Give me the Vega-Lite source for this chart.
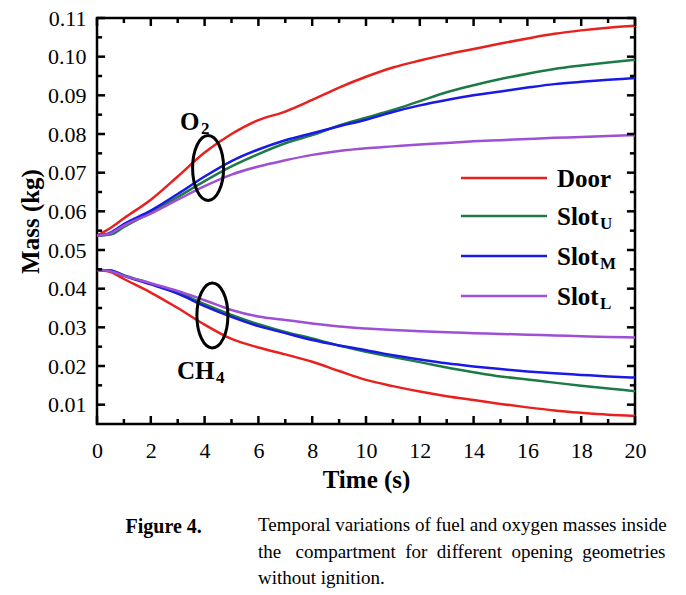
{
  "$schema": "https://vega.github.io/schema/vega-lite/v6.json",
  "width": 538,
  "height": 406,
  "autosize": {"type": "none"},
  "padding": {"left": 97, "top": 18, "right": 51, "bottom": 171},
  "background": "white",
  "config": {"view": {"stroke": "black", "strokeWidth": 2.5}, "font": "Liberation Serif"},
  "title": {
    "text": [
      "Temporal variations of fuel and oxygen masses inside",
      "the\u00a0\u00a0\u00a0compartment\u00a0\u00a0for\u00a0\u00a0different\u00a0\u00a0opening\u00a0\u00a0geometries",
      "without ignition."
    ],
    "orient": "bottom",
    "anchor": "start",
    "frame": "group",
    "dx": 161,
    "offset": -20,
    "font": "Liberation Serif",
    "fontSize": 19,
    "fontWeight": "normal",
    "lineHeight": 26.5,
    "color": "black"
  },
  "datasets": {
    "curves": [
      {"t":0,"s":"Door","g":"O2","m":0.0537},{"t":0.5,"s":"Door","g":"O2","m":0.0557},{"t":1,"s":"Door","g":"O2","m":0.0582},{"t":2,"s":"Door","g":"O2","m":0.0630},{"t":3,"s":"Door","g":"O2","m":0.0690},{"t":4,"s":"Door","g":"O2","m":0.0752},{"t":5,"s":"Door","g":"O2","m":0.0800},{"t":6,"s":"Door","g":"O2","m":0.0836},{"t":7,"s":"Door","g":"O2","m":0.0858},{"t":8,"s":"Door","g":"O2","m":0.0888},{"t":9,"s":"Door","g":"O2","m":0.0920},{"t":10,"s":"Door","g":"O2","m":0.0948},{"t":11,"s":"Door","g":"O2","m":0.0972},{"t":12,"s":"Door","g":"O2","m":0.0990},{"t":13,"s":"Door","g":"O2","m":0.1006},{"t":14,"s":"Door","g":"O2","m":0.1020},{"t":15,"s":"Door","g":"O2","m":0.1034},{"t":16,"s":"Door","g":"O2","m":0.1047},{"t":17,"s":"Door","g":"O2","m":0.1059},{"t":18,"s":"Door","g":"O2","m":0.1068},{"t":19,"s":"Door","g":"O2","m":0.1075},{"t":20,"s":"Door","g":"O2","m":0.1080},
      {"t":0,"s":"SlotU","g":"O2","m":0.0537},{"t":0.5,"s":"SlotU","g":"O2","m":0.0540},{"t":1,"s":"SlotU","g":"O2","m":0.0560},{"t":2,"s":"SlotU","g":"O2","m":0.0597},{"t":3,"s":"SlotU","g":"O2","m":0.0637},{"t":4,"s":"SlotU","g":"O2","m":0.0678},{"t":5,"s":"SlotU","g":"O2","m":0.0716},{"t":6,"s":"SlotU","g":"O2","m":0.0748},{"t":7,"s":"SlotU","g":"O2","m":0.0776},{"t":8,"s":"SlotU","g":"O2","m":0.0797},{"t":9,"s":"SlotU","g":"O2","m":0.0822},{"t":10,"s":"SlotU","g":"O2","m":0.0842},{"t":11,"s":"SlotU","g":"O2","m":0.0862},{"t":12,"s":"SlotU","g":"O2","m":0.0885},{"t":13,"s":"SlotU","g":"O2","m":0.0908},{"t":14,"s":"SlotU","g":"O2","m":0.0926},{"t":15,"s":"SlotU","g":"O2","m":0.0942},{"t":16,"s":"SlotU","g":"O2","m":0.0956},{"t":17,"s":"SlotU","g":"O2","m":0.0968},{"t":18,"s":"SlotU","g":"O2","m":0.0977},{"t":19,"s":"SlotU","g":"O2","m":0.0985},{"t":20,"s":"SlotU","g":"O2","m":0.0992},
      {"t":0,"s":"SlotM","g":"O2","m":0.0537},{"t":0.5,"s":"SlotM","g":"O2","m":0.0545},{"t":1,"s":"SlotM","g":"O2","m":0.0567},{"t":2,"s":"SlotM","g":"O2","m":0.0602},{"t":3,"s":"SlotM","g":"O2","m":0.0645},{"t":4,"s":"SlotM","g":"O2","m":0.0690},{"t":5,"s":"SlotM","g":"O2","m":0.0730},{"t":6,"s":"SlotM","g":"O2","m":0.0760},{"t":7,"s":"SlotM","g":"O2","m":0.0784},{"t":8,"s":"SlotM","g":"O2","m":0.0802},{"t":9,"s":"SlotM","g":"O2","m":0.0820},{"t":10,"s":"SlotM","g":"O2","m":0.0837},{"t":11,"s":"SlotM","g":"O2","m":0.0857},{"t":12,"s":"SlotM","g":"O2","m":0.0874},{"t":13,"s":"SlotM","g":"O2","m":0.0888},{"t":14,"s":"SlotM","g":"O2","m":0.0900},{"t":15,"s":"SlotM","g":"O2","m":0.0910},{"t":16,"s":"SlotM","g":"O2","m":0.0920},{"t":17,"s":"SlotM","g":"O2","m":0.0929},{"t":18,"s":"SlotM","g":"O2","m":0.0935},{"t":19,"s":"SlotM","g":"O2","m":0.0940},{"t":20,"s":"SlotM","g":"O2","m":0.0945},
      {"t":0,"s":"SlotL","g":"O2","m":0.0537},{"t":0.5,"s":"SlotL","g":"O2","m":0.0543},{"t":1,"s":"SlotL","g":"O2","m":0.0563},{"t":2,"s":"SlotL","g":"O2","m":0.0594},{"t":3,"s":"SlotL","g":"O2","m":0.0630},{"t":4,"s":"SlotL","g":"O2","m":0.0665},{"t":5,"s":"SlotL","g":"O2","m":0.0695},{"t":6,"s":"SlotL","g":"O2","m":0.0716},{"t":7,"s":"SlotL","g":"O2","m":0.0732},{"t":8,"s":"SlotL","g":"O2","m":0.0746},{"t":9,"s":"SlotL","g":"O2","m":0.0756},{"t":10,"s":"SlotL","g":"O2","m":0.0763},{"t":11,"s":"SlotL","g":"O2","m":0.0768},{"t":12,"s":"SlotL","g":"O2","m":0.0773},{"t":13,"s":"SlotL","g":"O2","m":0.0777},{"t":14,"s":"SlotL","g":"O2","m":0.0781},{"t":15,"s":"SlotL","g":"O2","m":0.0784},{"t":16,"s":"SlotL","g":"O2","m":0.0787},{"t":17,"s":"SlotL","g":"O2","m":0.0790},{"t":18,"s":"SlotL","g":"O2","m":0.0792},{"t":19,"s":"SlotL","g":"O2","m":0.0795},{"t":20,"s":"SlotL","g":"O2","m":0.0797},
      {"t":0,"s":"Door","g":"CH4","m":0.0448},{"t":0.5,"s":"Door","g":"CH4","m":0.0443},{"t":1,"s":"Door","g":"CH4","m":0.0425},{"t":2,"s":"Door","g":"CH4","m":0.0390},{"t":3,"s":"Door","g":"CH4","m":0.0350},{"t":4,"s":"Door","g":"CH4","m":0.0307},{"t":5,"s":"Door","g":"CH4","m":0.0270},{"t":6,"s":"Door","g":"CH4","m":0.0248},{"t":7,"s":"Door","g":"CH4","m":0.0230},{"t":8,"s":"Door","g":"CH4","m":0.0211},{"t":9,"s":"Door","g":"CH4","m":0.0187},{"t":10,"s":"Door","g":"CH4","m":0.0164},{"t":11,"s":"Door","g":"CH4","m":0.0148},{"t":12,"s":"Door","g":"CH4","m":0.0134},{"t":13,"s":"Door","g":"CH4","m":0.0122},{"t":14,"s":"Door","g":"CH4","m":0.0112},{"t":15,"s":"Door","g":"CH4","m":0.0102},{"t":16,"s":"Door","g":"CH4","m":0.0093},{"t":17,"s":"Door","g":"CH4","m":0.0085},{"t":18,"s":"Door","g":"CH4","m":0.0079},{"t":19,"s":"Door","g":"CH4","m":0.0074},{"t":20,"s":"Door","g":"CH4","m":0.0071},
      {"t":0,"s":"SlotU","g":"CH4","m":0.0448},{"t":0.5,"s":"SlotU","g":"CH4","m":0.0447},{"t":1,"s":"SlotU","g":"CH4","m":0.0435},{"t":2,"s":"SlotU","g":"CH4","m":0.0413},{"t":3,"s":"SlotU","g":"CH4","m":0.0390},{"t":4,"s":"SlotU","g":"CH4","m":0.0360},{"t":5,"s":"SlotU","g":"CH4","m":0.0332},{"t":6,"s":"SlotU","g":"CH4","m":0.0308},{"t":7,"s":"SlotU","g":"CH4","m":0.0288},{"t":8,"s":"SlotU","g":"CH4","m":0.0271},{"t":9,"s":"SlotU","g":"CH4","m":0.0253},{"t":10,"s":"SlotU","g":"CH4","m":0.0237},{"t":11,"s":"SlotU","g":"CH4","m":0.0223},{"t":12,"s":"SlotU","g":"CH4","m":0.0210},{"t":13,"s":"SlotU","g":"CH4","m":0.0196},{"t":14,"s":"SlotU","g":"CH4","m":0.0184},{"t":15,"s":"SlotU","g":"CH4","m":0.0173},{"t":16,"s":"SlotU","g":"CH4","m":0.0165},{"t":17,"s":"SlotU","g":"CH4","m":0.0157},{"t":18,"s":"SlotU","g":"CH4","m":0.0149},{"t":19,"s":"SlotU","g":"CH4","m":0.0142},{"t":20,"s":"SlotU","g":"CH4","m":0.0135},
      {"t":0,"s":"SlotM","g":"CH4","m":0.0448},{"t":0.5,"s":"SlotM","g":"CH4","m":0.0447},{"t":1,"s":"SlotM","g":"CH4","m":0.0433},{"t":2,"s":"SlotM","g":"CH4","m":0.0411},{"t":3,"s":"SlotM","g":"CH4","m":0.0387},{"t":4,"s":"SlotM","g":"CH4","m":0.0355},{"t":5,"s":"SlotM","g":"CH4","m":0.0327},{"t":6,"s":"SlotM","g":"CH4","m":0.0303},{"t":7,"s":"SlotM","g":"CH4","m":0.0285},{"t":8,"s":"SlotM","g":"CH4","m":0.0267},{"t":9,"s":"SlotM","g":"CH4","m":0.0253},{"t":10,"s":"SlotM","g":"CH4","m":0.0241},{"t":11,"s":"SlotM","g":"CH4","m":0.0228},{"t":12,"s":"SlotM","g":"CH4","m":0.0217},{"t":13,"s":"SlotM","g":"CH4","m":0.0207},{"t":14,"s":"SlotM","g":"CH4","m":0.0199},{"t":15,"s":"SlotM","g":"CH4","m":0.0192},{"t":16,"s":"SlotM","g":"CH4","m":0.0186},{"t":17,"s":"SlotM","g":"CH4","m":0.0181},{"t":18,"s":"SlotM","g":"CH4","m":0.0177},{"t":19,"s":"SlotM","g":"CH4","m":0.0173},{"t":20,"s":"SlotM","g":"CH4","m":0.0170},
      {"t":0,"s":"SlotL","g":"CH4","m":0.0448},{"t":0.5,"s":"SlotL","g":"CH4","m":0.0445},{"t":1,"s":"SlotL","g":"CH4","m":0.0433},{"t":2,"s":"SlotL","g":"CH4","m":0.0414},{"t":3,"s":"SlotL","g":"CH4","m":0.0394},{"t":4,"s":"SlotL","g":"CH4","m":0.0370},{"t":5,"s":"SlotL","g":"CH4","m":0.0345},{"t":6,"s":"SlotL","g":"CH4","m":0.0328},{"t":7,"s":"SlotL","g":"CH4","m":0.0319},{"t":8,"s":"SlotL","g":"CH4","m":0.0310},{"t":9,"s":"SlotL","g":"CH4","m":0.0302},{"t":10,"s":"SlotL","g":"CH4","m":0.0297},{"t":11,"s":"SlotL","g":"CH4","m":0.0293},{"t":12,"s":"SlotL","g":"CH4","m":0.0290},{"t":13,"s":"SlotL","g":"CH4","m":0.0287},{"t":14,"s":"SlotL","g":"CH4","m":0.0285},{"t":15,"s":"SlotL","g":"CH4","m":0.0283},{"t":16,"s":"SlotL","g":"CH4","m":0.0281},{"t":17,"s":"SlotL","g":"CH4","m":0.0279},{"t":18,"s":"SlotL","g":"CH4","m":0.0277},{"t":19,"s":"SlotL","g":"CH4","m":0.0275},{"t":20,"s":"SlotL","g":"CH4","m":0.0274}
    ],
    "xMajor": [{"v":0},{"v":2},{"v":4},{"v":6},{"v":8},{"v":10},{"v":12},{"v":14},{"v":16},{"v":18},{"v":20}],
    "xMinor": [{"v":1},{"v":3},{"v":5},{"v":7},{"v":9},{"v":11},{"v":13},{"v":15},{"v":17},{"v":19}],
    "yMajor": [{"v":0.01},{"v":0.02},{"v":0.03},{"v":0.04},{"v":0.05},{"v":0.06},{"v":0.07},{"v":0.08},{"v":0.09},{"v":0.1},{"v":0.11}],
    "yMinor": [{"v":0.015},{"v":0.025},{"v":0.035},{"v":0.045},{"v":0.055},{"v":0.065},{"v":0.075},{"v":0.085},{"v":0.095},{"v":0.105}],
    "legendLines": [
      {"s":"Door","x1":13.53,"x2":16.73,"y":0.06862},
      {"s":"SlotU","x1":13.53,"x2":16.73,"y":0.0588},
      {"s":"SlotM","x1":13.53,"x2":16.73,"y":0.04845},
      {"s":"SlotL","x1":13.53,"x2":16.73,"y":0.03811}
    ],
    "labels": [
      {"x":17.1,"y":0.06862,"text":"Door"},
      {"x":17.1,"y":0.0588,"text":"Slot"},
      {"x":17.1,"y":0.04845,"text":"Slot"},
      {"x":17.1,"y":0.03811,"text":"Slot"},
      {"x":3.086,"y":0.08336,"text":"O"},
      {"x":2.974,"y":0.01897,"text":"CH"}
    ],
    "subs": [
      {"x":18.7,"y":0.0588,"text":"U"},
      {"x":18.7,"y":0.04845,"text":"M"},
      {"x":18.7,"y":0.03811,"text":"L"},
      {"x":3.866,"y":0.08336,"text":"2"},
      {"x":4.424,"y":0.01897,"text":"4"}
    ],
    "ellipses": [
      {"x":4.13,"y":0.07121,"gas":"O2"},
      {"x":4.29,"y":0.03307,"gas":"CH4"}
    ]
  },
  "layer": [
    {
      "data": {"name": "curves"},
      "mark": {"type": "line", "strokeWidth": 2.5, "interpolate": "monotone"},
      "encoding": {
        "x": {"field": "t", "type": "quantitative", "scale": {"domain": [0, 20], "nice": false},
          "axis": {"orient": "bottom", "title": "Time (s)", "values": [0,2,4,6,8,10,12,14,16,18,20], "format": "d",
            "domain": false, "ticks": false, "grid": false,
            "labelPadding": 16, "labelFont": "Liberation Serif", "labelFontSize": 22, "labelColor": "black",
            "labelFlush": false, "labelOverlap": false,
            "titleFont": "Liberation Serif", "titleFontSize": 25, "titleFontWeight": "bold", "titleColor": "black", "titlePadding": 6}},
        "y": {"field": "m", "type": "quantitative", "scale": {"domain": [0.005, 0.11], "nice": false, "zero": false},
          "axis": {"orient": "left", "title": "Mass (kg)", "values": [0.01,0.02,0.03,0.04,0.05,0.06,0.07,0.08,0.09,0.1,0.11], "format": ".2f",
            "domain": false, "ticks": false, "grid": false,
            "labelPadding": 11, "labelFont": "Liberation Serif", "labelFontSize": 22, "labelColor": "black",
            "labelFlush": false, "labelOverlap": false,
            "titleFont": "Liberation Serif", "titleFontSize": 25, "titleFontWeight": "bold", "titleColor": "black", "titlePadding": 4}},
        "color": {"field": "s", "type": "nominal", "scale": {"domain": ["Door", "SlotU", "SlotM", "SlotL"], "range": ["#e8211f", "#1d7a45", "#1a1ae6", "#9d4fd6"]}, "legend": null},
        "detail": {"field": "g"}
      }
    },
    {
      "data": {"name": "xMajor"},
      "mark": {"type": "rule", "color": "black", "strokeWidth": 2.5},
      "encoding": {
        "x": {"field": "v", "type": "quantitative",
          "axis": {"orient": "top", "labels": false, "values": [], "domain": false, "ticks": false, "grid": false,
            "title": "Figure 4.", "titleX": 28, "titleY": 498, "titleAngle": 0, "titleAlign": "left", "titleBaseline": "top",
            "titleFont": "Liberation Serif", "titleFontSize": 20, "titleFontWeight": "bold", "titleColor": "black"}},
        "y": {"datum": 0.005, "type": "quantitative", "axis": null},
        "y2": {"datum": 0.00707}
      }
    },
    {
      "data": {"name": "xMinor"},
      "mark": {"type": "rule", "color": "black", "strokeWidth": 2.5},
      "encoding": {
        "x": {"field": "v", "type": "quantitative", "axis": null},
        "y": {"datum": 0.005, "type": "quantitative", "axis": null},
        "y2": {"datum": 0.0063}
      }
    },
    {
      "data": {"name": "xMajor"},
      "mark": {"type": "rule", "color": "black", "strokeWidth": 2.5},
      "encoding": {
        "x": {"field": "v", "type": "quantitative", "axis": null},
        "y": {"datum": 0.11, "type": "quantitative", "axis": null},
        "y2": {"datum": 0.10793}
      }
    },
    {
      "data": {"name": "xMinor"},
      "mark": {"type": "rule", "color": "black", "strokeWidth": 2.5},
      "encoding": {
        "x": {"field": "v", "type": "quantitative", "axis": null},
        "y": {"datum": 0.11, "type": "quantitative", "axis": null},
        "y2": {"datum": 0.1087}
      }
    },
    {
      "data": {"name": "yMajor"},
      "mark": {"type": "rule", "color": "black", "strokeWidth": 2.5},
      "encoding": {
        "y": {"field": "v", "type": "quantitative", "axis": null},
        "x": {"datum": 0, "type": "quantitative", "axis": null},
        "x2": {"datum": 0.3}
      }
    },
    {
      "data": {"name": "yMinor"},
      "mark": {"type": "rule", "color": "black", "strokeWidth": 2.5},
      "encoding": {
        "y": {"field": "v", "type": "quantitative", "axis": null},
        "x": {"datum": 0, "type": "quantitative", "axis": null},
        "x2": {"datum": 0.19}
      }
    },
    {
      "data": {"name": "yMajor"},
      "mark": {"type": "rule", "color": "black", "strokeWidth": 2.5},
      "encoding": {
        "y": {"field": "v", "type": "quantitative", "axis": null},
        "x": {"datum": 20, "type": "quantitative", "axis": null},
        "x2": {"datum": 19.7}
      }
    },
    {
      "data": {"name": "yMinor"},
      "mark": {"type": "rule", "color": "black", "strokeWidth": 2.5},
      "encoding": {
        "y": {"field": "v", "type": "quantitative", "axis": null},
        "x": {"datum": 20, "type": "quantitative", "axis": null},
        "x2": {"datum": 19.81}
      }
    },
    {
      "data": {"name": "legendLines"},
      "mark": {"type": "rule", "strokeWidth": 2.5},
      "encoding": {
        "x": {"field": "x1", "type": "quantitative", "axis": null},
        "x2": {"field": "x2"},
        "y": {"field": "y", "type": "quantitative", "axis": null},
        "color": {"field": "s", "type": "nominal", "legend": null}
      }
    },
    {
      "data": {"name": "labels"},
      "mark": {"type": "text", "font": "Liberation Serif", "fontWeight": "bold", "fontSize": 25, "align": "left", "baseline": "middle", "color": "black", "dy": 1},
      "encoding": {
        "x": {"field": "x", "type": "quantitative", "axis": null},
        "y": {"field": "y", "type": "quantitative", "axis": null},
        "text": {"field": "text"}
      }
    },
    {
      "data": {"name": "subs"},
      "mark": {"type": "text", "font": "Liberation Serif", "fontWeight": "bold", "fontSize": 17, "align": "left", "baseline": "middle", "color": "black", "dy": 8},
      "encoding": {
        "x": {"field": "x", "type": "quantitative", "axis": null},
        "y": {"field": "y", "type": "quantitative", "axis": null},
        "text": {"field": "text"}
      }
    },
    {
      "data": {"name": "ellipses"},
      "mark": {"type": "point", "shape": "M0,-1A0.477,1 0 1,1 0,1A0.477,1 0 1,1 0,-1Z", "size": 4225, "filled": false, "stroke": "black", "strokeWidth": 3, "opacity": 1},
      "encoding": {
        "x": {"field": "x", "type": "quantitative", "axis": null},
        "y": {"field": "y", "type": "quantitative", "axis": null}
      }
    }
  ],
  "resolve": {"axis": {"x": "independent", "y": "independent"}}
}
